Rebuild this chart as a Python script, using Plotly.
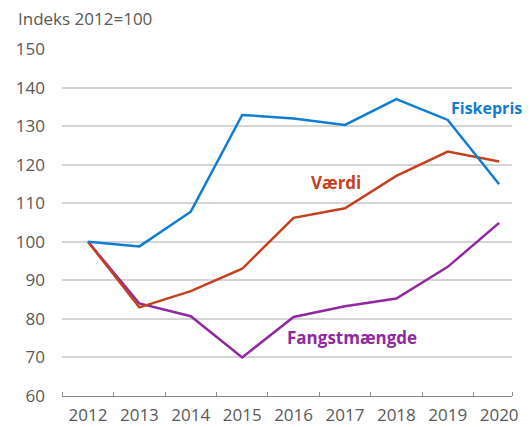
import plotly.graph_objects as go

years = [2012, 2013, 2014, 2015, 2016, 2017, 2018, 2019, 2020]
fiskepris = [100, 98.8, 107.8, 132.9, 132.0, 130.3, 137.0, 131.6, 114.9]
vaerdi = [100, 83.0, 87.2, 93.0, 106.2, 108.7, 117.1, 123.4, 120.8]
fangst = [100, 84.0, 80.7, 70.0, 80.5, 83.3, 85.3, 93.5, 104.9]

y_ticks = [60, 70, 80, 90, 100, 110, 120, 130, 140, 150]

BLUE = "#0f7dd2"
RED = "#c5401f"
PURPLE = "#8e2a9e"
GREY = "#595959"
FONT = "Open Sans"
FS = 17

fig = go.Figure()
for name, vals, col in [("Fangstmængde", fangst, PURPLE), ("Værdi", vaerdi, RED), ("Fiskepris", fiskepris, BLUE)]:
    fig.add_trace(go.Scatter(x=years, y=vals, mode="lines", name=name,
                             line=dict(color=col, width=2.5), showlegend=False))

labels = [("Fiskepris", 2019.75, 134.7, BLUE, 16), ("Værdi", 2016.82, 115.3, RED, FS),
          ("Fangstmængde", 2017.14, 75.3, PURPLE, FS)]
for txt, x, y, col, sz in labels:
    fig.add_annotation(x=x, y=y, text="<b>" + txt + "</b>", showarrow=False,
                       font=dict(color=col, size=sz, family=FONT), xanchor="center", yanchor="middle")

fig.add_annotation(xref="paper", yref="paper", x=-0.102, y=1.0, yshift=31, text="Indeks 2012=100",
                   showarrow=False, xanchor="left", yanchor="middle",
                   font=dict(size=FS, color=GREY, family=FONT))

fig.update_layout(
    width=524, height=419,
    margin=dict(l=54, r=20, t=41, b=31),
    plot_bgcolor="white", paper_bgcolor="white",
    font=dict(family=FONT, color=GREY, size=FS),
    xaxis=dict(range=[2011.494, 2020.25], tickvals=years, ticktext=[str(y) for y in years],
               showgrid=False, zeroline=False, showline=True, linecolor="#8c8c8c", linewidth=1,
               ticks="", ticklen=0, ticklabelstandoff=4,
               minor=dict(tickmode="array", tickvals=[y + 0.5 for y in years[:-1]] + [2011.494, 2020.25],
                          ticks="inside", ticklen=4, tickcolor="#8c8c8c", showgrid=False),
               tickfont=dict(size=FS, color=GREY, family=FONT), fixedrange=True, automargin=False),
    yaxis=dict(range=[60, 150], tickvals=y_ticks, showgrid=True, gridcolor="#d4d4d4", gridwidth=1.5,
               zeroline=False, showline=False, ticks="", ticklabelstandoff=16,
               tickfont=dict(size=FS, color=GREY, family=FONT), fixedrange=True, automargin=False),
)

fig.write_html("out.html")
